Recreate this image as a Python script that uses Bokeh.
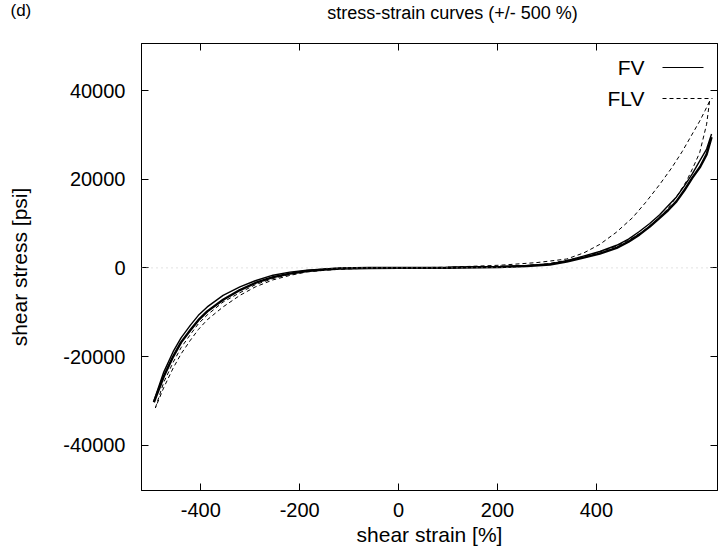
from bokeh.plotting import figure
from bokeh.models import Range1d, FixedTicker, LinearAxis, Label, Span
from bokeh.embed import file_html
from bokeh.resources import INLINE

# ---- data (axis units) ----
title_text = "stress-strain curves (+/- 500 %)"
panel_tag = "(d)"
x_title = "shear strain [%]"
y_title = "shear stress [psi]"
x_ticks = [-400, -200, 0, 200, 400]
y_ticks = [-40000, -20000, 0, 20000, 40000]
series_names = ["FV", "FLV"]
zero_stress = 0

# FV (solid): increasing-strain branch
fv_load_strain = [-495, -475, -456, -440, -421, -405, -387, -355, -321, -290, -254, -220, -185, -150, -118, -60, 0,
                  100, 205, 260, 306, 340, 372, 407, 441, 465, 487, 508, 528, 545, 562, 578, 594, 610, 623, 633]
fv_load_stress = [-30000, -23500, -18900, -15800, -12900, -10700, -8800, -6200, -4300, -2900, -1650, -950, -500, -250, -80, -10, 0,
                  80, 300, 550, 900, 1600, 2600, 3700, 5100, 6500, 8200, 10000, 12000, 14000, 16000, 18500, 21200, 24300, 26800, 30200]
# FV (solid): decreasing-strain branch
fv_unload_strain = [633, 623, 610, 594, 578, 562, 545, 528, 508, 487, 465, 441, 407, 372, 340, 306, 260, 205, 100, 0,
                    -60, -118, -150, -185, -220, -254, -290, -321, -355, -387, -405, -421, -440, -456, -475, -495]
fv_unload_stress = [29500, 25600, 22800, 20300, 17500, 15000, 13000, 11300, 9300, 7500, 5900, 4500, 3200, 2250, 1400, 750, 400, 200, 40, 0,
                    -30, -150, -380, -700, -1300, -2100, -3400, -5000, -7200, -9800, -11800, -14000, -16800, -20000, -24500, -30300]

# FLV (dashed): increasing-strain branch
flv_load_strain = [-492, -475, -456, -440, -421, -405, -387, -355, -321, -290, -254, -220, -185, -150, -118, -60, 0,
                   100, 205, 280, 340, 375, 407, 440, 473, 500, 528, 552, 574, 592, 609, 620, 629]
flv_load_stress = [-31600, -25800, -21300, -18000, -15000, -12600, -10600, -7700, -5600, -3800, -2400, -1450, -800, -420, -200, -30, 0,
                   150, 600, 1200, 2000, 3400, 5300, 8000, 11300, 14800, 18800, 22500, 26300, 29800, 33100, 35500, 37600]
# FLV (dashed): decreasing-strain branch
flv_unload_strain = [629, 623, 609, 595, 582, 562, 542, 518, 494, 468, 441, 407, 372, 340, 300, 250, 200, 100, 0,
                     -60, -118, -150, -185, -220, -254, -290, -321, -355, -387, -405, -421, -440, -456, -475, -492]
flv_unload_stress = [37600, 32400, 26000, 22500, 19500, 16000, 13000, 10400, 8200, 6400, 4900, 3600, 2500, 1700, 900, 500, 250, 50, 0,
                     -60, -300, -550, -900, -1700, -2700, -4300, -6200, -8800, -11700, -13900, -16300, -19400, -22600, -27000, -31600]

FONT = "Liberation Sans"
X0, X1 = -520, 645
Y0, Y1 = -50200, 50600
W, H = 718, 551
BL, BR, BT, BB = 141, 1, 43, 61

p = figure(width=W, height=H, output_backend="svg", toolbar_location=None,
           x_range=Range1d(X0, X1), y_range=Range1d(Y0, Y1),
           min_border_left=BL, min_border_right=BR, min_border_top=BT, min_border_bottom=BB)
p.grid.visible = False
p.outline_line_color = "black"
p.outline_line_width = 1
p.background_fill_color = "white"
p.border_fill_color = "white"

for ax in (p.xaxis[0], p.yaxis[0]):
    ax.major_tick_in = 7
    ax.major_tick_out = 0
    ax.minor_tick_line_color = None
    ax.axis_line_color = "black"
    ax.major_tick_line_color = "black"
    ax.major_label_text_font = FONT
    ax.major_label_text_font_size = "20px"
    ax.major_label_text_color = "black"
    ax.axis_label_text_font = FONT
    ax.axis_label_text_font_size = "21px"
    ax.axis_label_text_font_style = "normal"
    ax.axis_label_text_color = "black"

p.xaxis[0].ticker = FixedTicker(ticks=x_ticks)
p.yaxis[0].ticker = FixedTicker(ticks=y_ticks)
p.xaxis[0].major_label_overrides = {t: str(t) for t in x_ticks}
p.yaxis[0].major_label_overrides = {t: str(t) for t in y_ticks}
p.xaxis[0].axis_label = x_title
p.yaxis[0].axis_label = y_title
p.xaxis[0].major_label_standoff = 12
p.xaxis[0].axis_label_standoff = 3
p.yaxis[0].major_label_standoff = 16
p.yaxis[0].axis_label_standoff = 29

# mirror ticks on top and right (no labels)
top_ax = LinearAxis(ticker=FixedTicker(ticks=x_ticks))
right_ax = LinearAxis(ticker=FixedTicker(ticks=y_ticks))
for ax in (top_ax, right_ax):
    ax.major_tick_in = 7
    ax.major_tick_out = 0
    ax.minor_tick_line_color = None
    ax.major_label_text_font_size = "1px"
    ax.major_label_text_color = None
    ax.major_label_standoff = 0
    ax.axis_line_color = "black"
p.add_layout(top_ax, "above")
p.add_layout(right_ax, "right")

# faint dotted zero axis
p.add_layout(Span(location=zero_stress, dimension="width", line_color="#c4c4c4",
                  line_width=1, line_dash="1 4"))

# curves
r_fv1 = p.line(fv_load_strain, fv_load_stress, line_color="black", line_width=1.4)
r_fv2 = p.line(fv_unload_strain, fv_unload_stress, line_color="black", line_width=2.4)
r_flv1 = p.line(flv_load_strain, flv_load_stress, line_color="black", line_width=1, line_dash="4 3")
r_flv2 = p.line(flv_unload_strain, flv_unload_stress, line_color="black", line_width=1, line_dash="4 3")

# legend (gnuplot style: text then sample) -- layout in canvas pixels
fw = W - BL - BR
fh = H - BT - BB
def px_x(px):
    return X0 + (px - BL) * (X1 - X0) / fw
def px_y(py):
    return Y1 - (py - BT) * (Y1 - Y0) / fh

leg_rows = [67, 98]
leg_ends = [703, 712]
leg_dash = ["solid", "4 3"]
for name, row, end, dash in zip(series_names, leg_rows, leg_ends, leg_dash):
    p.line([px_x(662), px_x(end)], [px_y(row), px_y(row)], line_color="black", line_width=1, line_dash=dash)
    p.add_layout(Label(x=644 - BL, y=H - BB - row, x_units="screen", y_units="screen", text=name,
                       text_font=FONT, text_font_size="21px", text_align="right",
                       text_baseline="middle", text_color="black"))

p.add_layout(Label(x=452 - BL, y=BT - 12, x_units="screen", y_units="screen", text=title_text,
                   text_font=FONT, text_font_size="18px", text_align="center",
                   text_baseline="middle", text_color="black"), "above")
p.add_layout(Label(x=10 - BL, y=BT - 30, x_units="screen", y_units="screen", text=panel_tag,
                   text_font=FONT, text_font_size="17px", text_align="left",
                   text_baseline="middle", text_color="black"), "above")

open("out.html", "w").write(file_html(p, INLINE))
